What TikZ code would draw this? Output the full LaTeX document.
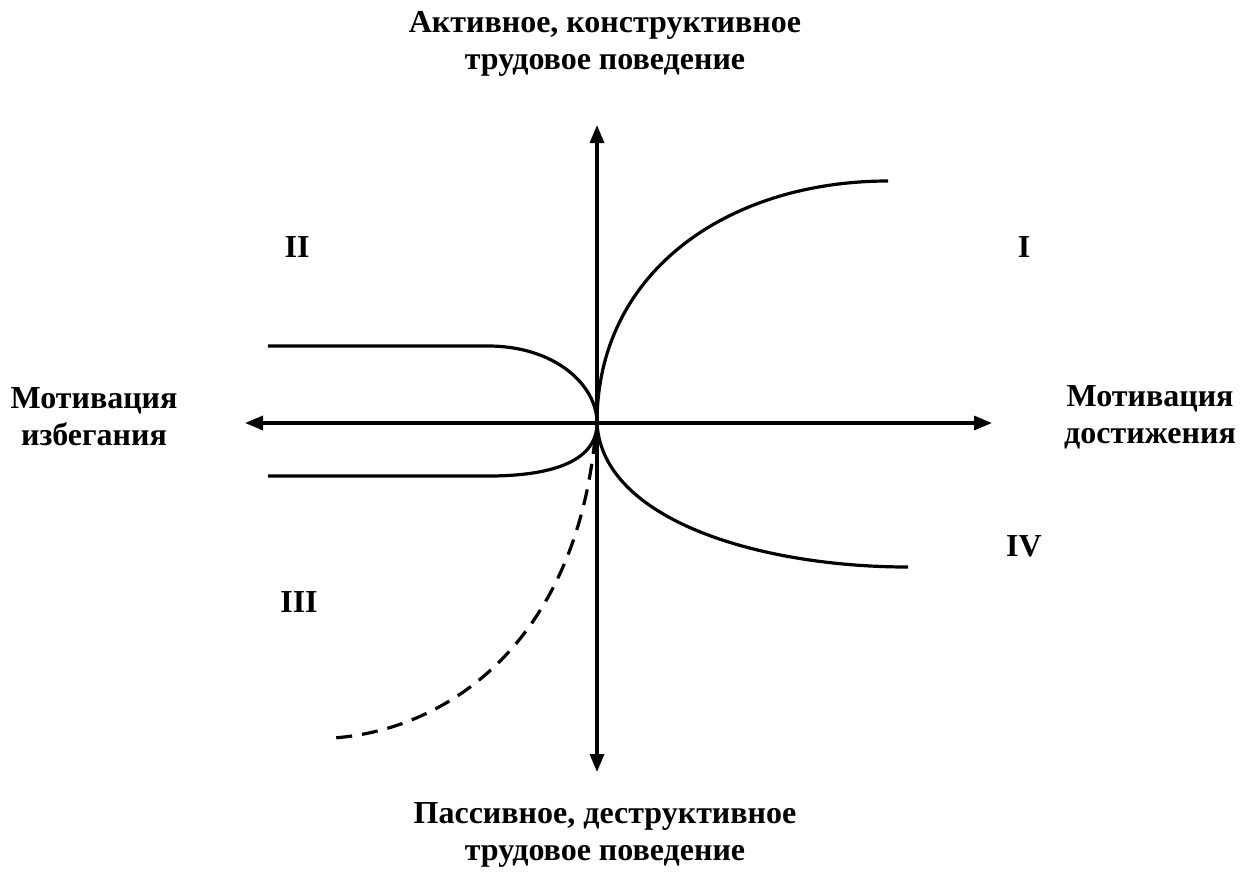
\documentclass[tikz,border=0pt]{standalone}
\usepackage{fontspec}
\setmainfont{Liberation Serif}
\usetikzlibrary{arrows.meta, positioning}

\begin{document}
\begin{tikzpicture}[
x=0.5pt, y=-0.5pt,
label/.style={
font=\fontsize{16}{18.5}\selectfont\bfseries,
align=center
},
quarter/.style={
font=\fontsize{16}{18.5}\selectfont\bfseries
},
curve/.style={
line width=1.6pt
},
>={Triangle[length=9pt, width=7pt]}
]

\useasboundingbox (0,0) rectangle (1246,874);

\coordinate (o) at (597,423);
\coordinate (top) at (597,125);
\coordinate (bottom) at (597,772);
\coordinate (left) at (245,423);
\coordinate (right) at (992,423);

\node[label] (active) at (605,44)
{Активное, конструктивное\\трудовое поведение};

\node[label] (passive) at (605,835)
{Пассивное, деструктивное\\трудовое поведение};

\node[label] (avoid) at (94,417)
{Мотивация\\избегания};

\node[label] (achieve) at (1150,417)
{Мотивация\\достижения};

\node[quarter] (q1) at (1024,247) {I};
\node[quarter] (q2) at (297,247) {II};
\node[quarter] (q3) at (299,602) {III};
\node[quarter] (q4) at (1024,546) {IV};

\draw[curve, <->] (bottom) -- (top);

\draw[curve, <->] (left) -- (right);

\coordinate (endI) at (888,181);
\coordinate (endIV) at (908,567);
\coordinate (upII) at (268,346);
\coordinate (lowII) at (268,476);
\coordinate (startIII) at (595,438);
\coordinate (endIII) at (333,738);

\draw[curve] (o) .. controls (597,270) and (730,181) .. (endI);

\draw[curve] (o) .. controls (602,520) and (760,567) .. (endIV);

\draw[curve] (upII) -- (488,346)
.. controls (555,346) and (597,385) .. (o);

\draw[curve] (lowII) -- (488,476)
.. controls (555,476) and (597,460) .. (o);

\draw[curve, dash pattern=on 8pt off 5pt]
(startIII) .. controls (575,640) and (450,730) .. (endIII);

\end{tikzpicture}
\end{document}
